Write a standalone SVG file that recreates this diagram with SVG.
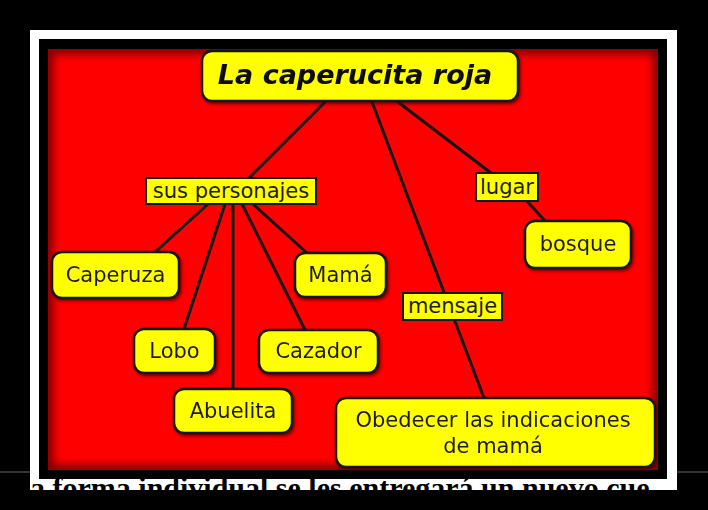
<svg xmlns="http://www.w3.org/2000/svg" width="708" height="510" viewBox="0 0 708 510">
<style>
.node rect{fill:#ffff00;stroke:#141414;stroke-width:2.5}
.node text{font-family:"DejaVu Sans",Verdana,sans-serif;font-size:21px;fill:#1e1e1e;text-anchor:middle}
#connectors line{stroke:#141414;stroke-width:3;stroke-linecap:round}
</style>
<defs>
<clipPath id="redclip"><rect x="48" y="49" width="610" height="421"/></clipPath>
<filter id="blur" x="-5%" y="-5%" width="110%" height="110%"><feGaussianBlur stdDeviation="4"/></filter>
<filter id="sh" x="-10%" y="-10%" width="130%" height="140%"><feDropShadow dx="1.5" dy="2" stdDeviation="1.5" flood-color="#400" flood-opacity="0.7"/></filter>
</defs>
<rect width="708" height="510" fill="#000"/>
<rect x="30" y="30" width="647" height="460" fill="#fff"/>
<rect x="39" y="39" width="628" height="440" fill="#000"/>
<rect x="48" y="49" width="610" height="421" fill="#ff0000"/>
<g clip-path="url(#redclip)"><rect x="48" y="49" width="610" height="421" fill="none" stroke="#700" stroke-width="10" filter="url(#blur)"/></g>
<text x="30" y="498" font-family="'Liberation Serif',serif" font-weight="bold" font-size="30" fill="#000">a forma individual se les entregará un nuevo cue</text>
<rect x="0" y="490" width="708" height="20" fill="#000"/>
<rect x="677" y="0" width="31" height="510" fill="#000"/>
<rect x="0" y="0" width="30" height="510" fill="#000"/>
<line x1="0" y1="472" x2="30" y2="472" stroke="#666" stroke-width="1"/>
<line x1="677" y1="472" x2="708" y2="472" stroke="#666" stroke-width="1"/>
<g id="connectors">
<line x1="325" y1="102" x2="249" y2="178"/>
<line x1="372" y1="102" x2="484" y2="398"/>
<line x1="398" y1="102" x2="491" y2="173"/>
<line x1="527" y1="201" x2="545" y2="221"/>
<line x1="208" y1="204" x2="155" y2="252"/>
<line x1="225" y1="204" x2="184" y2="329"/>
<line x1="233" y1="204" x2="233" y2="389"/>
<line x1="242" y1="204" x2="305" y2="330"/>
<line x1="253" y1="204" x2="307" y2="253"/>
</g>
<g id="title" class="node" filter="url(#sh)"><rect x="202" y="51" width="316" height="50" rx="10"/><text x="355" y="84" style="font-weight:bold;font-style:italic;font-size:27px;fill:#111">La caperucita roja</text></g>
<g id="personajes" class="node"><rect x="146" y="178" width="170" height="26" style="stroke-width:2"/><text x="231" y="198">sus personajes</text></g>
<g id="lugar" class="node"><rect x="476" y="173" width="62" height="28" style="stroke-width:2"/><text x="507" y="194">lugar</text></g>
<g id="mensaje" class="node"><rect x="403" y="293" width="99" height="27" style="stroke-width:2"/><text x="452.5" y="313">mensaje</text></g>
<g id="caperuza" class="node" filter="url(#sh)"><rect x="52" y="252" width="127" height="46" rx="10"/><text x="115.5" y="282">Caperuza</text></g>
<g id="mama" class="node" filter="url(#sh)"><rect x="295" y="253" width="91" height="44" rx="10"/><text x="340.5" y="282">Mamá</text></g>
<g id="bosque" class="node" filter="url(#sh)"><rect x="525" y="221" width="106" height="47" rx="10"/><text x="578" y="251">bosque</text></g>
<g id="lobo" class="node" filter="url(#sh)"><rect x="134" y="329" width="81" height="44" rx="10"/><text x="174.5" y="358">Lobo</text></g>
<g id="cazador" class="node" filter="url(#sh)"><rect x="259" y="330" width="119" height="43" rx="10"/><text x="318.5" y="358">Cazador</text></g>
<g id="abuelita" class="node" filter="url(#sh)"><rect x="174" y="389" width="118" height="44" rx="10"/><text x="233" y="418">Abuelita</text></g>
<g id="obedecer" class="node" filter="url(#sh)"><rect x="336" y="398" width="319" height="69" rx="10"/><text x="493" y="427">Obedecer las indicaciones</text><text x="493" y="453">de mamá</text></g>
</svg>
